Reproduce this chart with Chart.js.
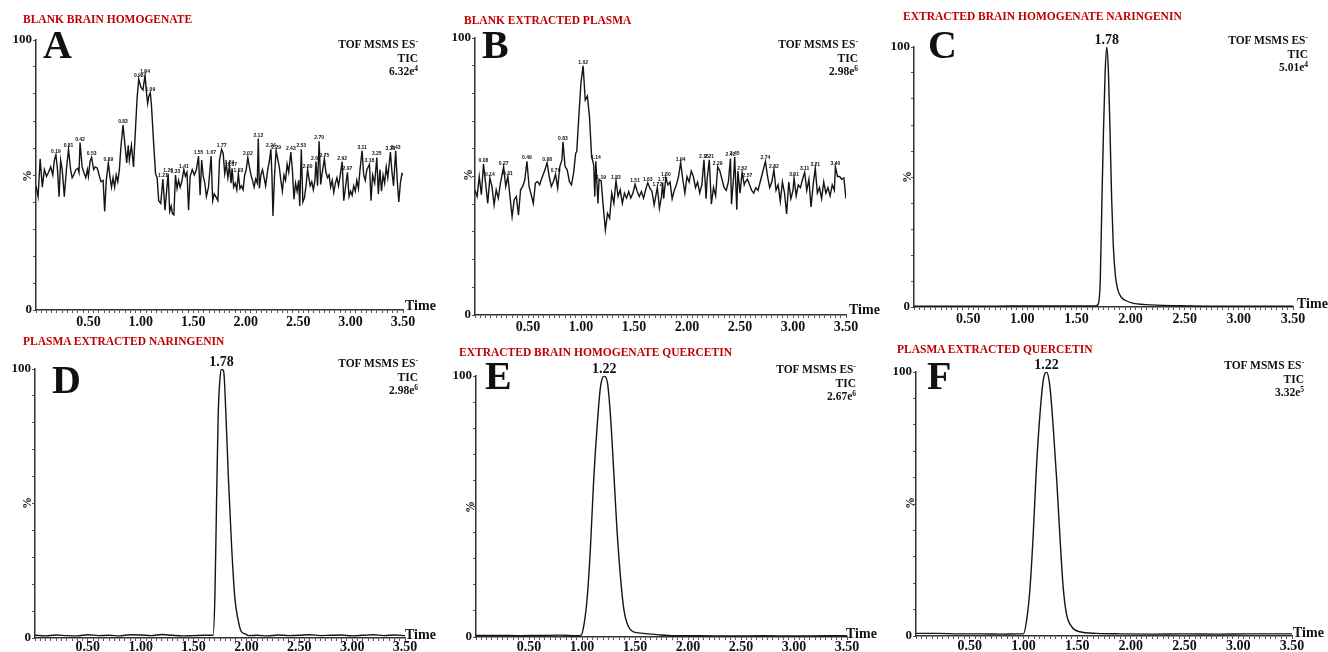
<!DOCTYPE html>
<html>
<head>
<title>TIC chromatograms</title>
<script src="https://cdn.jsdelivr.net/npm/chart.js"></script>
<style>
    body {
        margin: 0;
        padding: 0;
        background: #fff;
        overflow: hidden;
        font-family: "Liberation Serif", "Times New Roman", serif;
    }
    #fig {
        position: relative;
        width: 1328px;
        height: 652px;
    }
    #fig canvas { position: absolute; }
    .txt { position: absolute; white-space: nowrap; font-weight: bold; color: #111; line-height: 1; }
    .title { color: #c00000; font-size: 11.5px; }
    .letter { font-size: 40px; }
    .pct { font-size: 12px; transform: translate(-50%, -50%) rotate(-90deg); }
    .info { font-size: 11.5px; line-height: 13px; text-align: right; }
    .info span { font-size: 7.5px; position: relative; top: -4px; }
    .time { font-size: 14px; }
</style>
</head>
<body>
<div id="fig"></div>
<script>
// panel titles and header text
const titles = ['BLANK BRAIN HOMOGENATE', 'BLANK EXTRACTED PLASMA', 'EXTRACTED BRAIN HOMOGENATE NARINGENIN',
                'PLASMA EXTRACTED NARINGENIN', 'EXTRACTED BRAIN HOMOGENATE QUERCETIN', 'PLASMA EXTRACTED QUERCETIN'];
const letters = ['A', 'B', 'C', 'D', 'E', 'F'];
const intensities = ['6.32e', '2.98e', '5.01e', '2.98e', '2.67e', '3.32e'];
const exponents = ['4', '6', '4', '6', '6', '5'];

// A: blank brain homogenate (time min, %)
const timesA = [0.00,0.02,0.04,0.06,0.08,0.10,0.12,0.14,0.16,0.175,0.19,0.205,0.22,0.235,0.25,0.27,0.29,0.31,0.33,0.345,
  0.36,0.38,0.40,0.41,0.42,0.44,0.46,0.475,0.49,0.50,0.515,0.53,0.55,0.565,0.585,0.605,0.62,0.64,0.655,0.67,
  0.69,0.705,0.72,0.735,0.75,0.765,0.78,0.795,0.81,0.83,0.85,0.865,0.88,0.89,0.91,0.93,0.95,0.965,0.98,1.00,
  1.02,1.04,1.055,1.065,1.075,1.09,1.10,1.12,1.14,1.155,1.17,1.19,1.21,1.23,1.26,1.275,1.29,1.30,1.315,1.33,
  1.345,1.36,1.375,1.39,1.41,1.425,1.44,1.455,1.47,1.49,1.51,1.53,1.55,1.565,1.58,1.595,1.61,1.625,1.645,1.67,
  1.685,1.70,1.715,1.735,1.75,1.77,1.785,1.80,1.815,1.83,1.845,1.86,1.87,1.885,1.90,1.915,1.93,1.945,1.96,1.975,
  1.99,2.005,2.02,2.035,2.05,2.065,2.08,2.095,2.11,2.12,2.13,2.145,2.16,2.175,2.19,2.21,2.225,2.24,2.25,2.26,
  2.275,2.29,2.305,2.32,2.335,2.35,2.365,2.38,2.395,2.41,2.43,2.445,2.46,2.475,2.49,2.505,2.515,2.53,2.545,2.56,
  2.575,2.59,2.60,2.615,2.63,2.645,2.66,2.67,2.685,2.70,2.715,2.73,2.75,2.765,2.78,2.795,2.81,2.825,2.84,2.855,
  2.87,2.885,2.90,2.92,2.935,2.95,2.97,2.985,3.00,3.015,3.03,3.045,3.06,3.075,3.09,3.11,3.125,3.14,3.155,3.18,
  3.195,3.21,3.23,3.25,3.265,3.28,3.295,3.31,3.325,3.34,3.355,3.38,3.395,3.41,3.43,3.445,3.46,3.475,3.49,3.50];
const valuesA = [46,42,56,45.5,52,49.5,51,53,50,55.5,57.5,52,42,55.5,52,42,52,59.5,52,49,
  50,52,52.5,51,62,53,50.5,49,52,49.5,55,56.5,52,53,52.5,49.5,47.5,48,36.5,48,
  54.5,49.5,45.5,49,45.5,50,47.5,52,60.5,68.5,60.5,54.5,61,55.5,61,53,68,79,85.5,82.5,
  81.5,87,80,76.5,79,80.5,76.5,63,50.5,49,40.5,39.5,48.5,37,50.5,36.5,38.5,35.8,35.2,50,
  45,48,45.5,47.5,52,49.5,51,37,49.5,52,50,52,57,42.5,55.5,49.5,47,42,45.5,57,
  40.5,43,42,40.5,55.5,59.5,58,50.5,54,49,53.5,47,52.5,45.5,47,44.5,50.5,45,46,44.5,
  50,52,56.5,53,50,48,45.5,48.5,47,63.5,45,50,52,49,46,52,55,59.5,50,34.8,
  50,59,56,53,48,44,50,48,54,51,58.5,52,41,47,44,48,38.5,59.5,40,41.5,
  46,52,49.5,46,47.5,44.5,48,55,46,62.5,46.5,51,56,51,49,50,45.5,48,43.5,47,
  49,46,49.5,55,40.5,45,51,42,44,42.5,46,44,48,45,52,59,50,48,52,54,
  40.5,50,47,56.5,43,52,44,50,47,53,49,58.5,51,46,59,48,40,47,50.5,50];
const peaksA = [0.19,0.31,0.42,0.53,0.69,0.83,0.98,1.04,1.09,1.21,1.26,1.33,1.41,1.55,1.67,1.77,1.84,1.87,1.93,
  2.02,2.12,2.24,2.29,2.43,2.53,2.60,2.67,2.70,2.75,2.92,2.97,3.11,3.18,3.25,3.38,3.43];

// B: blank extracted plasma
const timesB = [0.00,0.02,0.04,0.06,0.08,0.10,0.12,0.14,0.16,0.18,0.20,0.22,0.24,0.27,0.29,0.31,0.33,0.35,0.37,0.39,
  0.41,0.43,0.45,0.47,0.49,0.51,0.53,0.55,0.57,0.59,0.61,0.63,0.66,0.68,0.70,0.72,0.74,0.76,0.78,0.80,
  0.82,0.83,0.85,0.87,0.89,0.91,0.93,0.95,0.96,0.98,1.00,1.02,1.04,1.06,1.08,1.10,1.12,1.13,1.14,1.16,
  1.17,1.19,1.21,1.23,1.25,1.27,1.29,1.31,1.33,1.35,1.37,1.39,1.41,1.43,1.45,1.47,1.49,1.51,1.53,1.55,
  1.57,1.59,1.61,1.63,1.65,1.67,1.69,1.71,1.72,1.74,1.76,1.77,1.78,1.80,1.82,1.84,1.86,1.88,1.90,1.92,
  1.94,1.96,1.98,2.00,2.02,2.04,2.06,2.08,2.10,2.12,2.14,2.16,2.18,2.19,2.21,2.23,2.25,2.27,2.29,2.31,
  2.33,2.35,2.37,2.39,2.41,2.42,2.44,2.45,2.47,2.48,2.50,2.52,2.54,2.55,2.57,2.59,2.61,2.63,2.65,2.67,
  2.69,2.71,2.74,2.76,2.78,2.80,2.82,2.84,2.86,2.88,2.90,2.92,2.94,2.96,2.98,3.00,3.01,3.03,3.05,3.07,
  3.09,3.11,3.13,3.15,3.17,3.19,3.21,3.23,3.25,3.27,3.29,3.31,3.33,3.35,3.37,3.39,3.40,3.42,3.44,3.46,
  3.48,3.50];
const valuesB = [45,42.8,50,43.4,54.5,47.6,40.3,49.5,46.4,39.7,45.2,42.2,47.6,53.5,46.4,50,42.8,35.5,41.6,42.8,
  36.1,45.2,46.4,48.8,55.5,46.4,43.4,40.3,47.6,48.2,47,49.4,52.4,55,50,46.4,48.2,50.8,45.8,53.6,
  56,62.5,53.6,52.4,48.2,47,51.2,58.4,59,72,84,90,77.6,79,71.6,57.2,54.2,42.8,55.5,40.3,
  48.8,48.5,39.1,30.7,36.7,34.9,44,40.3,48.5,42.8,45.2,40.3,44,42.2,44.6,42.2,44,47.2,44.6,42.8,
  44.6,42.2,45.2,47.8,45.8,44.6,39.7,44,46,38.5,43,47.8,42,49.5,47,48,42,45,47,50,
  55,49,44,50,48,52,50,46,48,44,47,56,42,49,56,40,46,43,53.5,52,
  49,46,45,48,56.5,40,50,57,38,52,44,51.5,47,48,49,47,45,44,46,45,
  48,51,55.5,50,46,48,52.5,45,47,41,48,44,36.5,48,42,45,49.5,43,47,46,
  49,51.5,45,49,39,47,53,44,46,42,48,44,46,43,47,45,53.5,50,50,49,
  49.5,42];
const peaksB = [0.08,0.14,0.27,0.31,0.49,0.68,0.76,0.83,1.02,1.14,1.19,1.33,1.51,1.63,1.72,1.77,1.80,1.94,
  2.16,2.21,2.29,2.41,2.45,2.52,2.57,2.74,2.82,3.01,3.11,3.21,3.40];

// C: extracted brain homogenate naringenin
const timesC = [0.00,0.30,0.60,0.90,1.20,1.50,1.68,1.70,1.72,1.735,1.75,1.765,1.78,1.795,1.81,1.825,1.84,1.86,1.88,1.91,
  1.95,2.02,2.14,2.45,3.00,3.50];
const valuesC = [0.3,0.3,0.3,0.4,0.4,0.4,0.4,1,10,40,68,90,100,91,68,42,24,12,7,4,
  2.6,1.5,0.9,0.5,0.3,0.3];
const peaksC = [1.78];

// D: plasma extracted naringenin
const timesD = [0.00,0.10,0.20,0.30,0.40,0.50,0.60,0.70,0.80,0.90,1.00,1.10,1.20,1.30,1.40,1.50,1.60,1.685,1.702,1.718,
  1.733,1.749,1.765,1.785,1.805,1.83,1.86,1.89,1.92,1.95,1.99,2.02,2.10,2.20,2.30,2.40,2.50,2.60,2.70,2.80,
  2.90,3.00,3.10,3.20,3.30,3.40,3.50];
const valuesD = [1.0,0.8,1.1,0.9,0.8,1.2,0.9,1.0,0.8,1.2,1.1,0.9,1.3,1.0,0.8,0.9,1.0,1,16,52,
  83,96,100,99,84,59,34,15,7,2.5,1.5,0.9,1.0,0.8,1.1,0.9,1.0,1.2,0.9,1.0,
  1.1,0.8,1.0,1.2,0.9,1.1,0.9];
const peaksD = [1.78];

// E: extracted brain homogenate quercetin
const timesE = [0.00,0.20,0.40,0.60,0.80,0.95,0.99,1.02,1.05,1.08,1.11,1.145,1.175,1.21,1.24,1.27,1.30,1.33,1.365,1.395,
  1.425,1.475,1.55,1.71,1.87,2.10,2.40,2.70,3.00,3.30,3.50];
const valuesE = [0.6,0.6,0.5,0.6,0.7,0.5,0.6,5,15.5,34.5,60,82,96,100,97.5,84,63,41,22,10.5,
  5.3,2.2,1.5,0.9,0.5,0.5,0.4,0.5,0.4,0.5,0.5];
const peaksE = [1.22];

// F: plasma extracted quercetin
const timesF = [0.00,0.20,0.40,0.60,0.80,0.95,1.00,1.03,1.06,1.09,1.12,1.155,1.185,1.215,1.245,1.275,1.31,1.34,1.37,1.40,
  1.45,1.525,1.68,1.90,2.20,2.50,2.80,3.10,3.50];
const valuesF = [1.0,1.0,0.8,0.8,0.7,0.8,0.8,6,17.5,37.5,63,84.5,97,100,95,80.5,59,37.5,18.5,8.5,
  3.5,1.6,1.0,0.8,0.7,0.8,0.7,0.8,0.8];
const peaksF = [1.22];

const xTickStep = 0.05;
const xMax = 3.5;

// page positions of each panel (plot area, text anchors)
const layout = [
  {area: [36, 40, 403, 310],  title: [23, 16],   letter: [43, 32],   pct: [27, 176],  info: [418, 40.7],  time: [405, 301.7], xPad: 1},
  {area: [475, 38, 846, 315], title: [464, 16.7], letter: [482, 32], pct: [468, 175], info: [858, 40.7],  time: [849, 305],   xPad: 1},
  {area: [914, 47, 1293, 307], title: [903, 12.7], letter: [928, 32], pct: [907, 177], info: [1308, 36.7], time: [1297, 299], xPad: 1},
  {area: [35, 369, 405, 638], title: [23, 338],  letter: [52, 367],  pct: [27, 503],  info: [418, 359.3], time: [405, 630],   xPad: -2},
  {area: [476, 376, 847, 637], title: [459, 349], letter: [485, 363], pct: [470, 507], info: [856, 366],   time: [846, 629],  xPad: -1},
  {area: [916, 372, 1292, 636], title: [897, 346], letter: [927, 363], pct: [910, 503], info: [1304, 361.7], time: [1293, 628], xPad: -1}
];
const series = [
  {t: timesA, v: valuesA, peaks: peaksA, small: true},
  {t: timesB, v: valuesB, peaks: peaksB, small: true},
  {t: timesC, v: valuesC, peaks: peaksC, small: false},
  {t: timesD, v: valuesD, peaks: peaksD, small: false},
  {t: timesE, v: valuesE, peaks: peaksE, small: false},
  {t: timesF, v: valuesF, peaks: peaksF, small: false}
];

const SERIF = '"Liberation Serif", "Times New Roman", serif';
const fig = document.getElementById('fig');

// retention time labels over peaks
const peakLabelPlugin = {
    id: 'peakLabels',
    afterDatasetsDraw(chart, args, opts) {
        if (!opts.times || !opts.times.length) return;
        const pts = chart.data.datasets[0].data;
        const xs = chart.scales.x, ys = chart.scales.y;
        const ctx = chart.ctx;
        ctx.save();
        ctx.font = opts.font;
        ctx.fillStyle = '#111';
        ctx.textAlign = 'center';
        ctx.textBaseline = 'alphabetic';
        opts.times.forEach(t => {
            let best = null;
            pts.forEach(p => {
                if (Math.abs(p.x - t) <= opts.win && (!best || p.y > best.y)) best = p;
            });
            if (!best) best = pts.reduce((a, b) => Math.abs(b.x - t) < Math.abs(a.x - t) ? b : a);
            ctx.fillText(t.toFixed(2), xs.getPixelForValue(best.x), ys.getPixelForValue(best.y) - opts.gap);
        });
        ctx.restore();
    }
};

function addText(cls, html, left, top, extra) {
    const d = document.createElement('div');
    d.className = 'txt ' + cls;
    d.innerHTML = html;
    d.style.left = left + 'px';
    d.style.top = top + 'px';
    if (extra) Object.assign(d.style, extra);
    fig.appendChild(d);
}

const PAD_L = 40, PAD_T = 20, PAD_R = 30, PAD_B = 26;

layout.forEach((p, i) => {
    const [L, T, R, B] = p.area;
    const cv = document.createElement('canvas');
    cv.width = (R - L) + PAD_L + PAD_R;
    cv.height = (B - T) + PAD_T + PAD_B;
    cv.style.left = (L - PAD_L) + 'px';
    cv.style.top = (T - PAD_T) + 'px';
    fig.appendChild(cv);

    const s = series[i];
    const pts = s.t.map((t, k) => ({x: t, y: s.v[k]}));

    new Chart(cv, {
        type: 'line',
        data: {
            datasets: [{
                data: pts,
                borderColor: '#151515',
                borderWidth: 1.4,
                pointRadius: 0,
                tension: 0,
                cubicInterpolationMode: s.small ? 'default' : 'monotone'
            }]
        },
        options: {
            responsive: false,
            animation: false,
            layout: { padding: { left: 0, top: PAD_T, right: PAD_R, bottom: 0 } },
            plugins: {
                legend: { display: false },
                tooltip: { enabled: false },
                peakLabels: s.small
                    ? { times: s.peaks, font: 'bold 5px "Liberation Sans", Arial, sans-serif', win: 0.012, gap: 2 }
                    : { times: s.peaks, font: 'bold 14px ' + SERIF, win: 0.03, gap: 3 }
            },
            scales: {
                x: {
                    type: 'linear',
                    min: 0,
                    max: xMax,
                    afterFit: sc => { sc.height = PAD_B; },
                    border: { display: true, color: '#333', width: 1.5 },
                    grid: { display: true, drawOnChartArea: false, drawTicks: true, tickLength: 3, color: '#555' },
                    ticks: {
                        stepSize: xTickStep,
                        autoSkip: false,
                        maxRotation: 0,
                        minRotation: 0,
                        padding: p.xPad,
                        color: '#111',
                        font: { family: SERIF, weight: 'bold', size: 14 },
                        callback: v => (v > 0 && Math.abs(v * 2 - Math.round(v * 2)) < 1e-6) ? v.toFixed(2) : ''
                    }
                },
                y: {
                    min: 0,
                    max: 100,
                    afterFit: sc => { sc.width = PAD_L; },
                    border: { display: true, color: '#333', width: 1.5 },
                    grid: { display: true, drawOnChartArea: false, drawTicks: true, tickLength: 3, color: '#555' },
                    ticks: {
                        stepSize: 10,
                        autoSkip: false,
                        padding: 1,
                        color: '#111',
                        font: { family: SERIF, weight: 'bold', size: 13 },
                        callback: v => (v === 0 || v === 100) ? String(v) : ''
                    }
                }
            }
        },
        plugins: [peakLabelPlugin]
    });

    // header text
    addText('title', titles[i], p.title[0], p.title[1] - 2);
    addText('letter', letters[i], p.letter[0], p.letter[1] - 7);
    addText('pct', '%', p.pct[0], p.pct[1]);
    addText('info', 'TOF MSMS ES<span>-</span><br>TIC<br>' + intensities[i] + '<span>' + exponents[i] + '</span>',
        0, p.info[1] - 2.8, { left: 'auto', right: (1328 - p.info[0]) + 'px' });
    addText('time', 'Time', p.time[0], p.time[1] - 2.5);
});
</script>
</body>
</html>
